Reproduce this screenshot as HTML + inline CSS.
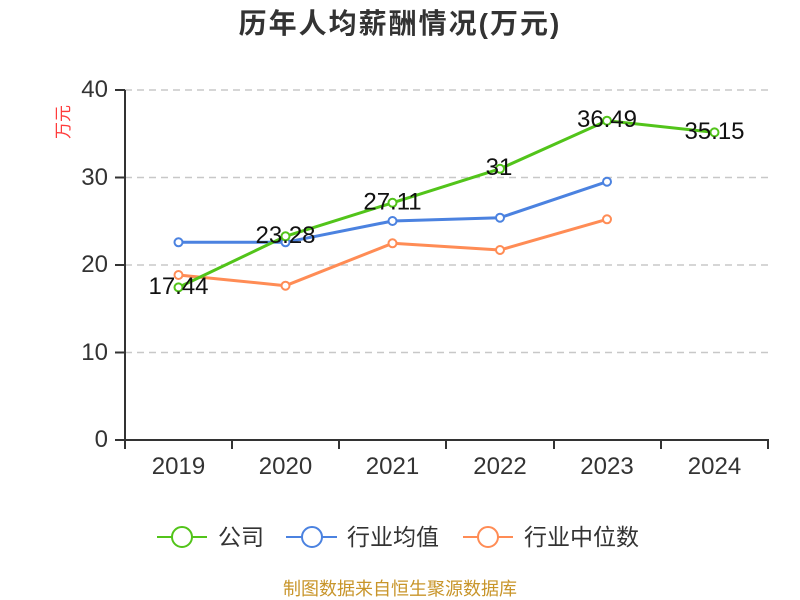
<!DOCTYPE html>
<html>
<head>
<meta charset="utf-8">
<style>
html,body{margin:0;padding:0;background:#fff;}
svg{display:block;}
</style>
</head>
<body>
<svg width="800" height="600" viewBox="0 0 800 600" xmlns="http://www.w3.org/2000/svg">
  <rect width="800" height="600" fill="#fff"/>
  <text x="400" y="33" text-anchor="middle" font-family="'Liberation Sans','Noto Sans CJK SC',sans-serif" font-size="28" font-weight="bold" fill="#333" letter-spacing="2">历年人均薪酬情况(万元)</text>

  <!-- grid -->
  <g stroke="#c8c8c8" stroke-width="1.5" stroke-dasharray="7,5">
    <line x1="125" y1="90" x2="768" y2="90"/>
    <line x1="125" y1="177.5" x2="768" y2="177.5"/>
    <line x1="125" y1="265" x2="768" y2="265"/>
    <line x1="125" y1="352.5" x2="768" y2="352.5"/>
  </g>

  <!-- axes -->
  <g stroke="#333" stroke-width="2">
    <line x1="125" y1="90" x2="125" y2="441"/>
    <line x1="124" y1="440" x2="769" y2="440"/>
    <line x1="115" y1="90" x2="125" y2="90"/>
    <line x1="115" y1="177.5" x2="125" y2="177.5"/>
    <line x1="115" y1="265" x2="125" y2="265"/>
    <line x1="115" y1="352.5" x2="125" y2="352.5"/>
    <line x1="115" y1="440" x2="125" y2="440"/>
    <line x1="125" y1="440" x2="125" y2="449"/>
    <line x1="232" y1="440" x2="232" y2="449"/>
    <line x1="339" y1="440" x2="339" y2="449"/>
    <line x1="446" y1="440" x2="446" y2="449"/>
    <line x1="554" y1="440" x2="554" y2="449"/>
    <line x1="661" y1="440" x2="661" y2="449"/>
    <line x1="768" y1="440" x2="768" y2="449"/>
  </g>

  <g font-family="'Liberation Sans',sans-serif" font-size="24" fill="#333" text-anchor="end">
    <text x="108" y="97">40</text>
    <text x="108" y="185">30</text>
    <text x="108" y="272">20</text>
    <text x="108" y="360">10</text>
    <text x="108" y="447">0</text>
  </g>
  <g font-family="'Liberation Sans',sans-serif" font-size="24" fill="#333" text-anchor="middle">
    <text x="178.5" y="474">2019</text>
    <text x="285.5" y="474">2020</text>
    <text x="392.5" y="474">2021</text>
    <text x="500" y="474">2022</text>
    <text x="607" y="474">2023</text>
    <text x="714.5" y="474">2024</text>
  </g>

  <text transform="translate(69,122) rotate(-90)" text-anchor="middle" font-family="'Liberation Sans','Noto Sans CJK SC',sans-serif" font-size="17" fill="#ff3b3b">万元</text>

  <!-- series -->
  <g fill="none" stroke-width="3" stroke-linejoin="round">
    <polyline stroke="#ff8c55" points="178.5,275 285.5,285.7 392.5,243.3 500,250 607,219.3"/>
    <polyline stroke="#4b82e0" points="178.5,242.3 285.5,242.3 392.5,221 500,217.7 607,181.7"/>
    <polyline stroke="#52c41a" points="178.5,287.4 285.5,236.3 392.5,202.8 500,168.8 607,120.7 714.5,132.4"/>
  </g>
  <g fill="#fff" stroke-width="2">
    <g stroke="#ff8c55">
      <circle cx="178.5" cy="275" r="4"/><circle cx="285.5" cy="285.7" r="4"/><circle cx="392.5" cy="243.3" r="4"/><circle cx="500" cy="250" r="4"/><circle cx="607" cy="219.3" r="4"/>
    </g>
    <g stroke="#4b82e0">
      <circle cx="178.5" cy="242.3" r="4"/><circle cx="285.5" cy="242.3" r="4"/><circle cx="392.5" cy="221" r="4"/><circle cx="500" cy="217.7" r="4"/><circle cx="607" cy="181.7" r="4"/>
    </g>
    <g stroke="#52c41a">
      <circle cx="178.5" cy="287.4" r="4"/><circle cx="285.5" cy="236.3" r="4"/><circle cx="392.5" cy="202.8" r="4"/><circle cx="500" cy="168.8" r="4"/><circle cx="607" cy="120.7" r="4"/><circle cx="714.5" cy="132.4" r="4"/>
    </g>
  </g>

  <g font-family="'Liberation Sans',sans-serif" font-size="24" fill="#111" text-anchor="middle">
    <text x="178.5" y="294">17.44</text>
    <text x="285.5" y="243">23.28</text>
    <text x="392.5" y="209.5">27.11</text>
    <text x="499" y="175">31</text>
    <text x="607" y="127">36.49</text>
    <text x="714.5" y="139">35.15</text>
  </g>

  <!-- legend -->
  <g stroke-width="2" fill="#fff">
    <line x1="157" y1="537" x2="207" y2="537" stroke="#52c41a"/>
    <circle cx="182" cy="537" r="10" stroke="#52c41a"/>
    <line x1="286" y1="537" x2="337" y2="537" stroke="#4b82e0"/>
    <circle cx="312" cy="537" r="10" stroke="#4b82e0"/>
    <line x1="463" y1="537" x2="513" y2="537" stroke="#ff8c55"/>
    <circle cx="488" cy="537" r="10" stroke="#ff8c55"/>
  </g>
  <g font-family="'Liberation Sans','Noto Sans CJK SC',sans-serif" font-size="23" fill="#333">
    <text x="218" y="545">公司</text>
    <text x="347" y="545">行业均值</text>
    <text x="524" y="545">行业中位数</text>
  </g>

  <text x="400" y="595" text-anchor="middle" font-family="'Liberation Sans','Noto Sans CJK SC',sans-serif" font-size="18" fill="#c8952a">制图数据来自恒生聚源数据库</text>
</svg>
</body>
</html>
